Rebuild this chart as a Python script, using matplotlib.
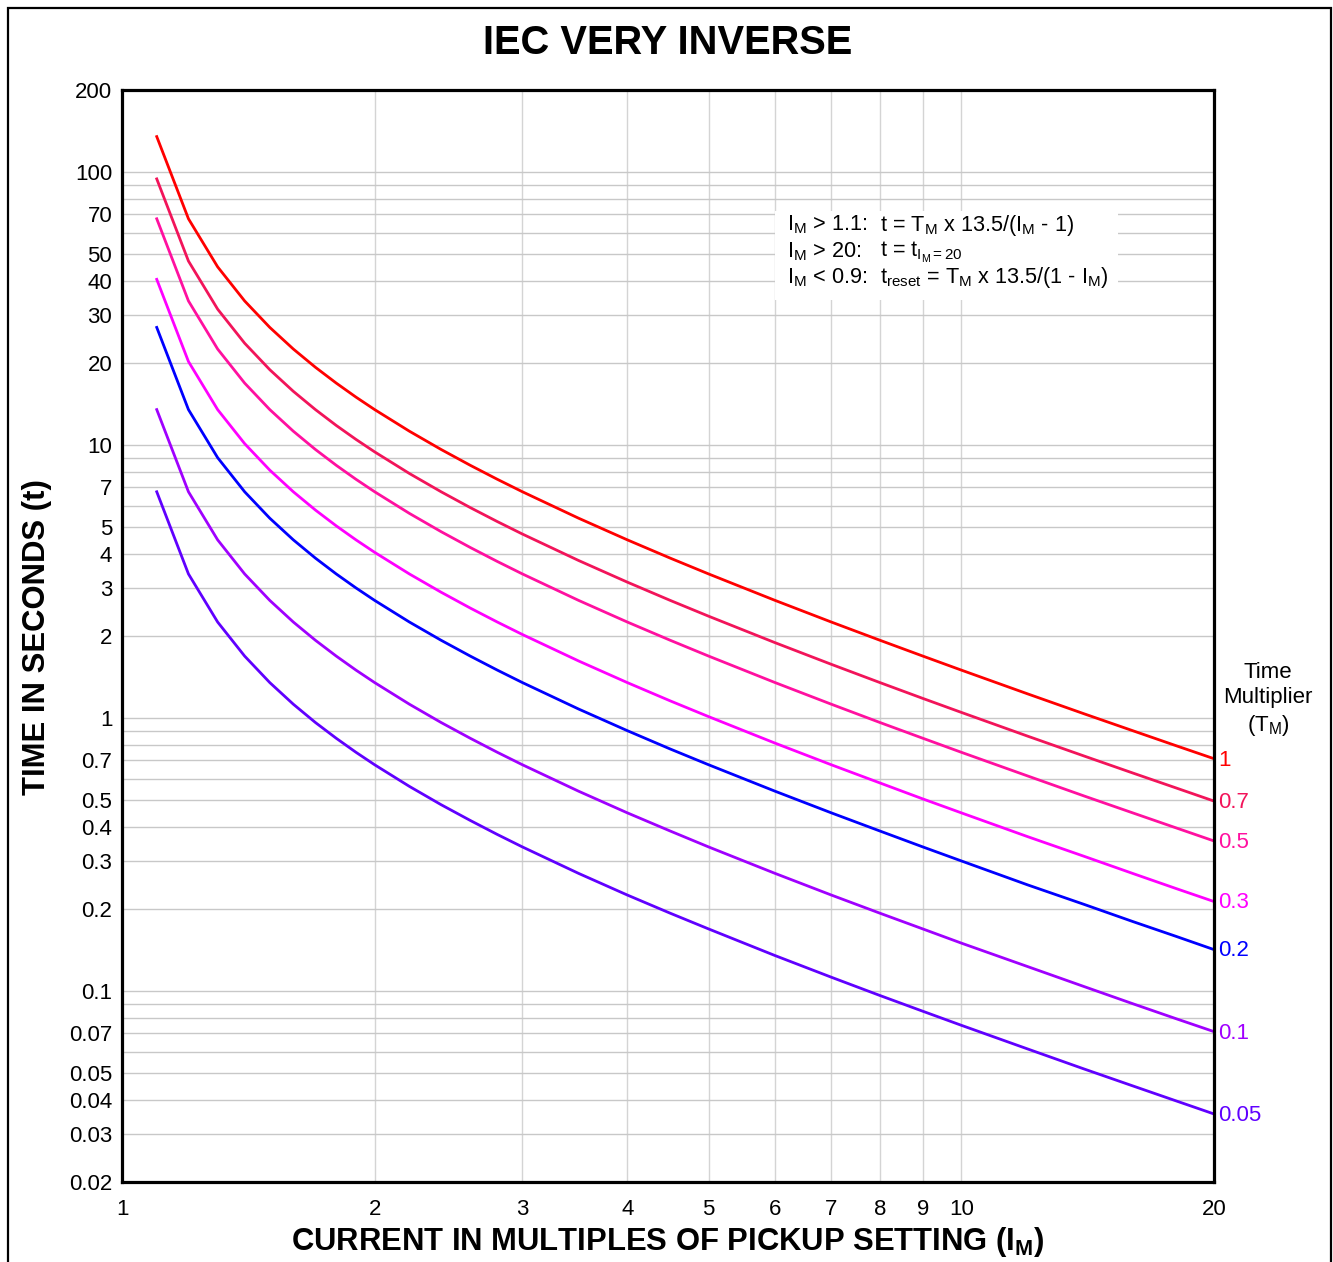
#%% Imports
import numpy as np
import matplotlib
matplotlib.use('Agg')
import matplotlib.pyplot as plt
from matplotlib.ticker import FixedLocator, NullFormatter, FixedFormatter
from matplotlib.patches import Rectangle

# Data: current multiple I_M and trip time t per time multiplier T_M
im_pts = [1.1, 1.2, 1.3, 1.4, 1.5, 1.6, 1.7, 1.8, 1.9, 2.0, 2.2, 2.4, 2.6, 2.8, 3.0,
          3.5, 4.0, 4.5, 5.0, 6.0, 7.0, 8.0, 9.0, 10.0, 12.0, 14.0, 16.0, 18.0, 20.0]

t_tm_1    = [135, 67.5, 45, 33.75, 27, 22.5, 19.29, 16.88, 15, 13.5, 11.25, 9.643, 8.438, 7.5, 6.75,
             5.4, 4.5, 3.857, 3.375, 2.7, 2.25, 1.929, 1.688, 1.5, 1.227, 1.038, 0.9, 0.794, 0.7105]
t_tm_07   = [94.5, 47.25, 31.5, 23.63, 18.9, 15.75, 13.5, 11.81, 10.5, 9.45, 7.875, 6.75, 5.906, 5.25, 4.725,
             3.78, 3.15, 2.7, 2.363, 1.89, 1.575, 1.35, 1.181, 1.05, 0.859, 0.727, 0.63, 0.556, 0.497]
t_tm_05   = [67.5, 33.75, 22.5, 16.88, 13.5, 11.25, 9.643, 8.438, 7.5, 6.75, 5.625, 4.821, 4.219, 3.75, 3.375,
             2.7, 2.25, 1.929, 1.688, 1.35, 1.125, 0.964, 0.844, 0.75, 0.614, 0.519, 0.45, 0.397, 0.355]
t_tm_03   = [40.5, 20.25, 13.5, 10.13, 8.1, 6.75, 5.786, 5.063, 4.5, 4.05, 3.375, 2.893, 2.531, 2.25, 2.025,
             1.62, 1.35, 1.157, 1.013, 0.81, 0.675, 0.579, 0.506, 0.45, 0.368, 0.312, 0.27, 0.238, 0.213]
t_tm_02   = [27, 13.5, 9, 6.75, 5.4, 4.5, 3.857, 3.375, 3.0, 2.7, 2.25, 1.929, 1.688, 1.5, 1.35,
             1.08, 0.9, 0.771, 0.675, 0.54, 0.45, 0.386, 0.3375, 0.3, 0.245, 0.208, 0.18, 0.159, 0.142]
t_tm_01   = [13.5, 6.75, 4.5, 3.375, 2.7, 2.25, 1.929, 1.688, 1.5, 1.35, 1.125, 0.964, 0.844, 0.75, 0.675,
             0.54, 0.45, 0.386, 0.3375, 0.27, 0.225, 0.193, 0.169, 0.15, 0.123, 0.104, 0.09, 0.0794, 0.0711]
t_tm_005  = [6.75, 3.375, 2.25, 1.688, 1.35, 1.125, 0.964, 0.844, 0.75, 0.675, 0.5625, 0.482, 0.422, 0.375, 0.3375,
             0.27, 0.225, 0.193, 0.169, 0.135, 0.1125, 0.0964, 0.0844, 0.075, 0.0614, 0.0519, 0.045, 0.0397, 0.0355]

tm_labels = ['1', '0.7', '0.5', '0.3', '0.2', '0.1', '0.05']
tm_series = [t_tm_1, t_tm_07, t_tm_05, t_tm_03, t_tm_02, t_tm_01, t_tm_005]
tm_colors = ['#ff0000', '#f2145a', '#ff10a0', '#ff00ff', '#0000ff', '#a000ff', '#6000ff']

x_ticks   = [1, 2, 3, 4, 5, 6, 7, 8, 9, 10, 20]
y_ticks   = [0.02, 0.03, 0.04, 0.05, 0.07, 0.1, 0.2, 0.3, 0.4, 0.5, 0.7,
             1, 2, 3, 4, 5, 7, 10, 20, 30, 40, 50, 70, 100, 200]
y_ticklbl = ['0.02', '0.03', '0.04', '0.05', '0.07', '0.1', '0.2', '0.3', '0.4', '0.5', '0.7',
             '1', '2', '3', '4', '5', '7', '10', '20', '30', '40', '50', '70', '100', '200']

#%% Style
plt.rcParams['font.family'] = ['Liberation Sans', 'DejaVu Sans']
plt.rcParams['mathtext.fontset'] = 'custom'
plt.rcParams['mathtext.rm'] = 'Liberation Sans'
plt.rcParams['mathtext.it'] = 'Liberation Sans'
plt.rcParams['mathtext.bf'] = 'Liberation Sans:bold'

W, H = 1333, 1262
fig = plt.figure(figsize=(W / 100, H / 100), dpi=100)
ax = fig.add_axes([122 / W, 1 - 1182 / H, (1214 - 122) / W, (1182 - 90) / H])

for t_vals, c in zip(tm_series, tm_colors):
    ax.plot(im_pts, t_vals, color=c, lw=2.0, solid_joinstyle='miter', zorder=3)

ax.set_xscale('log')
ax.set_yscale('log')
ax.set_xlim(1, 20)
ax.set_ylim(0.02, 200)

ax.xaxis.set_major_locator(FixedLocator(x_ticks))
ax.xaxis.set_major_formatter(FixedFormatter([str(v) for v in x_ticks]))
ax.xaxis.set_minor_locator(FixedLocator([]))
ax.yaxis.set_major_locator(FixedLocator(y_ticks))
ax.yaxis.set_major_formatter(FixedFormatter(y_ticklbl))
y_minor = [m * 10.0 ** e for e in range(-2, 3) for m in range(1, 10)]
y_minor = [v for v in y_minor if 0.02 <= v <= 200 and v not in y_ticks]
ax.yaxis.set_minor_locator(FixedLocator(y_minor))
ax.yaxis.set_minor_formatter(NullFormatter())

ax.tick_params(axis='both', which='both', length=0, labelsize=16)
ax.tick_params(axis='y', pad=7)
ax.tick_params(axis='x', pad=12)
ax.grid(True, which='both', axis='y', color='#c8c8c8', lw=1.0, zorder=1)
ax.grid(True, which='major', axis='x', color='#d4d4d4', lw=1.0, zorder=1)
for s in ax.spines.values():
    s.set_linewidth(2.3)
    s.set_zorder(5)

# Right-hand T_M labels at the end of each curve
for lbl, t_vals, c in zip(tm_labels, tm_series, tm_colors):
    ax.annotate(lbl, xy=(im_pts[-1], t_vals[-1]), xytext=(3, -1), textcoords='offset points',
                color=c, fontsize=16, ha='left', va='center', annotation_clip=False)

fig.text(1268 / W, 1 - 700 / H, 'Time\nMultiplier\n(T$_\\mathrm{M}$)', ha='center', va='center',
         fontsize=16, linespacing=1.25)

# Formula box
fig.patches.append(Rectangle((775 / W, 1 - 300 / H), (1118 - 775) / W, (300 - 211) / H,
                             transform=fig.transFigure, facecolor='white', edgecolor='none', zorder=2))
ax.set_zorder(0)
box_lines = [(225, r'I$_\mathrm{M}$ > 1.1:', r't = T$_\mathrm{M}$ x 13.5/(I$_\mathrm{M}$ - 1)'),
             (252, r'I$_\mathrm{M}$ > 20:', r't = t$_\mathrm{I_M{=}20}$'),
             (278, r'I$_\mathrm{M}$ < 0.9:', r't$_\mathrm{reset}$ = T$_\mathrm{M}$ x 13.5/(1 - I$_\mathrm{M}$)')]
for yy, left, right in box_lines:
    fig.text(787 / W, 1 - yy / H, left, fontsize=15.6, ha='left', va='center', zorder=6)
    fig.text(880 / W, 1 - yy / H, right, fontsize=15.6, ha='left', va='center', zorder=6)

# Titles
fig.text(668 / W, 1 - 43 / H, 'IEC VERY INVERSE', ha='center', va='center',
         fontsize=28.7, fontweight='bold')
fig.text(37 / W, 1 - 637 / H, 'TIME IN SECONDS (t)', ha='center', va='center', rotation=90,
         fontsize=22.3, fontweight='bold')
fig.text(668 / W, 1 - 1242 / H, r'CURRENT IN MULTIPLES OF PICKUP SETTING (I$_\mathbf{M}$)',
         ha='center', va='center', fontsize=22.3, fontweight='bold')

# Outer frame
fig.patches.append(Rectangle((8 / W, -0.05), (1331 - 8) / W, 1 - 8 / H + 0.05,
                             transform=fig.transFigure, facecolor='none', edgecolor='black',
                             lw=1.6, zorder=0))

fig.savefig('out.png', dpi=100)
